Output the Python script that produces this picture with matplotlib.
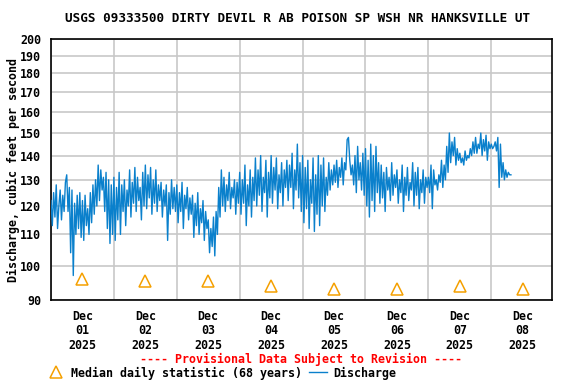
import numpy as np
import matplotlib
matplotlib.use('Agg')
from matplotlib import pyplot as plt
import matplotlib.dates as mdates
from matplotlib.ticker import FixedLocator, NullLocator, NullFormatter, FixedFormatter

# discharge, cfs, half-hourly from 2025-12-01 00:00
dec01 = [122, 113, 125, 116, 128, 112, 120, 126, 115, 124, 118, 129,
         132, 118, 127, 104, 126, 97, 121, 110, 124, 112, 125, 109,
         122, 108, 124, 113, 119, 110, 125, 114, 128, 117, 130, 120,
         136, 122, 134, 126, 131, 118, 133, 112, 130, 107, 128, 110]
dec02 = [131, 108, 127, 115, 133, 110, 128, 118, 130, 113, 126, 120,
         134, 116, 129, 121, 135, 118, 131, 122, 127, 115, 133, 120,
         136, 119, 132, 123, 135, 117, 130, 121, 134, 118, 128, 122,
         129, 116, 126, 120, 128, 108, 125, 117, 130, 119, 127, 118]
dec03 = [128, 114, 125, 118, 129, 112, 124, 119, 127, 115, 123, 117,
         124, 109, 121, 113, 125, 110, 119, 114, 122, 108, 118, 112,
         115, 104, 112, 106, 116, 103, 118, 110, 127, 116, 134, 120,
         131, 118, 128, 122, 133, 119, 127, 123, 130, 117, 129, 121]
dec04 = [133, 117, 130, 121, 136, 113, 128, 120, 134, 116, 131, 122,
         139, 120, 134, 124, 140, 118, 131, 125, 138, 116, 133, 123,
         140, 121, 135, 126, 139, 119, 132, 125, 137, 120, 134, 127,
         138, 122, 136, 127, 141, 119, 134, 126, 145, 123, 137, 118]
dec05 = [140, 114, 135, 119, 138, 112, 130, 121, 139, 111, 132, 117,
         140, 113, 136, 120, 139, 118, 131, 124, 137, 126, 134, 128,
         136, 129, 138, 127, 135, 131, 139, 128, 137, 134, 147, 148,
         138, 132, 136, 128, 140, 125, 144, 130, 137, 126, 141, 124]
dec06 = [143, 120, 138, 116, 145, 122, 140, 118, 144, 125, 137, 121,
         136, 123, 133, 118, 135, 126, 131, 122, 137, 124, 132, 127,
         134, 121, 130, 125, 136, 118, 131, 124, 135, 122, 129, 126,
         137, 120, 133, 124, 135, 119, 130, 125, 134, 121, 131, 127]
dec07 = [131, 125, 136, 119, 134, 128, 130, 126, 132, 129, 138, 127,
         136, 130, 144, 133, 150, 137, 146, 140, 148, 136, 143, 138,
         141, 137, 139, 136, 142, 138, 140, 139, 143, 140, 146, 141,
         148, 141, 145, 143, 150, 140, 147, 142, 149, 138, 146, 143]
dec08 = [145, 143, 144, 146, 142, 148, 127, 145, 131, 137, 130, 134,
         131, 133, 132, 132]

discharge = dec01 + dec02 + dec03 + dec04 + dec05 + dec06 + dec07 + dec08
t = np.datetime64('2025-12-01T00:00') + np.arange(len(discharge)) * np.timedelta64(30, 'm')

median_days = np.arange(np.datetime64('2025-12-01T12:00'), np.datetime64('2025-12-09T00:00'), np.timedelta64(1, 'D'))
median_vals = [96, 95.5, 95.5, 94, 93, 93, 94, 93]

yticks = [90, 100, 110, 120, 130, 140, 150, 160, 170, 180, 190, 200]

font = 'DejaVu Sans Mono'
fs = 8.4
blue = '#0a80cc'
orange = '#f5a000'

fig = plt.figure(figsize=(5.76, 3.84), dpi=100)
ax = fig.add_axes([51/576, 1-300/384, 501/576, 261/384])

ax.plot(t, discharge, color=blue, linewidth=1.0, zorder=3)
ax.plot(median_days, median_vals, linestyle='none', marker='^', markersize=8,
        markerfacecolor='none', markeredgecolor=orange, markeredgewidth=1.1, zorder=4)

ax.set_yscale('log')
ax.set_ylim(90, 200)
ax.yaxis.set_major_locator(FixedLocator(yticks))
ax.yaxis.set_major_formatter(FixedFormatter([str(v) for v in yticks]))
ax.yaxis.set_minor_locator(NullLocator())
ax.yaxis.set_minor_formatter(NullFormatter())

ax.set_xlim(np.datetime64('2025-12-01T00:00'), np.datetime64('2025-12-08T23:10'))
ax.xaxis.set_major_locator(mdates.DayLocator())
ax.xaxis.set_major_formatter(NullFormatter())
ax.xaxis.set_minor_locator(mdates.HourLocator(byhour=[12]))
ax.xaxis.set_minor_formatter(mdates.DateFormatter('Dec\n%d\n2025'))

ax.grid(True, which='major', color='#c8c8c8', linewidth=1.2, zorder=0)
ax.tick_params(which='both', length=0)
ax.tick_params(axis='y', pad=7)
ax.tick_params(axis='x', which='minor', pad=7)
for lab in ax.get_yticklabels():
    lab.set_fontfamily(font); lab.set_fontweight('bold'); lab.set_fontsize(fs)
for lab in ax.xaxis.get_minorticklabels():
    lab.set_fontfamily(font); lab.set_fontweight('bold'); lab.set_fontsize(fs)
    lab.set_linespacing(1.15)
for s in ax.spines.values():
    s.set_linewidth(1.2)
    s.set_color('black')

ax.set_ylabel('Discharge, cubic feet per second', fontfamily=font, fontweight='bold',
              fontsize=fs, labelpad=0)

fig.text(298/576, 1-19/384, 'USGS 09333500 DIRTY DEVIL R AB POISON SP WSH NR HANKSVILLE UT',
         ha='center', va='center', fontfamily=font, fontweight='bold', fontsize=9.1)
fig.text(301/576, 1-359/384, '---- Provisional Data Subject to Revision ----',
         ha='center', va='center', fontfamily=font, fontweight='bold', fontsize=fs, color='red')

# legend row
fig.lines.append(plt.Line2D([56/576], [1-372/384], marker='^', markersize=8, markerfacecolor='none',
                            markeredgecolor=orange, markeredgewidth=1.1, transform=fig.transFigure))
fig.text(71/576, 1-373/384, 'Median daily statistic (68 years)', ha='left', va='center',
         fontfamily=font, fontweight='bold', fontsize=fs)
fig.lines.append(plt.Line2D([309/576, 327/576], [1-372/384, 1-372/384], color=blue,
                            linewidth=1.0, transform=fig.transFigure))
fig.text(333/576, 1-373/384, 'Discharge', ha='left', va='center',
         fontfamily=font, fontweight='bold', fontsize=fs)

plt.savefig('out.png', dpi=100)
